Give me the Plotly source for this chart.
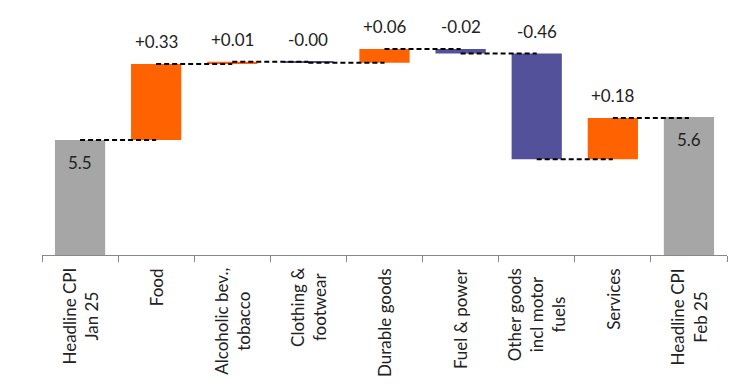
import plotly.graph_objects as go

categories = ["Headline CPI<br>Jan 25", "Food", "Alcoholic bev.,<br>tobacco", "Clothing &<br>footwear",
              "Durable goods", "Fuel & power", "Other goods<br>incl motor<br>fuels", "Services",
              "Headline CPI<br>Feb 25"]
start_value = 5.5
changes = [0.33, 0.01, -0.004, 0.06, -0.02, -0.46, 0.18]
end_value = 5.6

ORANGE = "#FF6200"
PURPLE = "#525199"
GREY = "#A6A6A6"
FONT = "Lato"
TXT = "#222222"

bases, heights, colors, levels = [], [], [], []
bases.append(0); heights.append(start_value); colors.append(GREY)
level = start_value
levels.append(level)
for c in changes:
    bases.append(level)
    heights.append(c)
    colors.append(ORANGE if c > 0 else PURPLE)
    level += c
    levels.append(level)
bases.append(0); heights.append(end_value); colors.append(GREY)
levels.append(end_value)

fig = go.Figure()
fig.add_trace(go.Bar(x=categories, y=heights, base=bases, marker_color=colors,
                     marker_line_width=0, width=0.66, hoverinfo="skip"))

# connectors center-to-center
for i in range(len(categories) - 1):
    fig.add_trace(go.Scatter(x=[categories[i], categories[i + 1]], y=[levels[i], levels[i]],
                             mode="lines", line=dict(color="black", width=2, dash="5px,3px"),
                             hoverinfo="skip"))

# value labels
for i, cat in enumerate(categories):
    if i == 0 or i == len(categories) - 1:
        fig.add_annotation(x=cat, y=heights[i], text=f"{heights[i]:.1f}", showarrow=False,
                           yanchor="top", yshift=-10, font=dict(family=FONT, size=17, color=TXT))
    else:
        top = max(bases[i], bases[i] + heights[i])
        fig.add_annotation(x=cat, y=top, text=f"{heights[i]:+.2f}", showarrow=False,
                           yanchor="bottom", yshift=10, font=dict(family=FONT, size=17, color=TXT))

# category labels (centered multi-line, rotated)
for cat in categories:
    fig.add_annotation(x=cat, y=0, yref="paper", text=cat, showarrow=False, textangle=-90,
                       yanchor="top", xanchor="center", align="center", yshift=-11,
                       font=dict(family=FONT, size=17, color=TXT))

# page has 8px body margin: figure is drawn at (8, 8)
fig.update_layout(
    width=726, height=370, showlegend=False,
    margin=dict(l=34, r=7, t=17, b=123),
    plot_bgcolor="white", paper_bgcolor="white",
)
fig.update_xaxes(type="category", tickson="boundaries", ticks="outside", ticklen=6, tickcolor="#888",
                 showline=True, linecolor="#888", linewidth=1, showticklabels=False, showgrid=False)
fig.update_yaxes(range=[5.0, 6.0], visible=False, showgrid=False)

fig.write_html("out.html")
